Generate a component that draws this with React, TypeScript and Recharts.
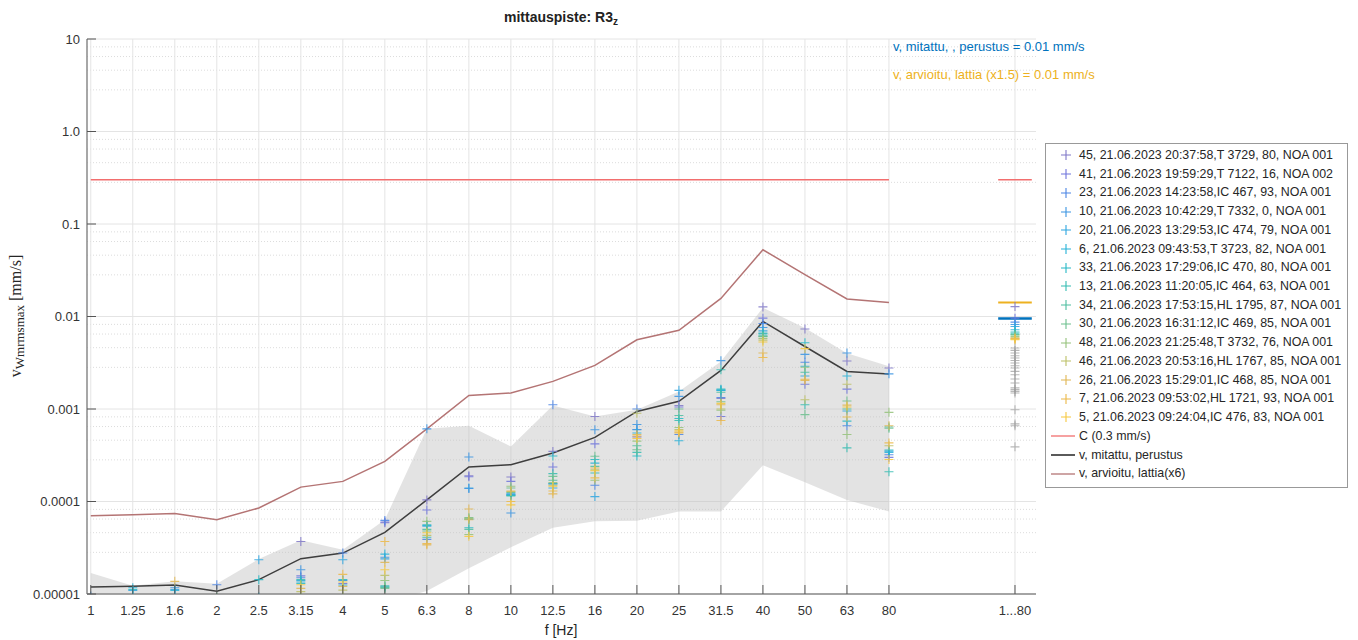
import { ComposedChart, Line, Area, Scatter, XAxis, YAxis, CartesianGrid } from 'recharts';

// 1/3-octave band centre frequencies + the overall column
const bands = ['1', '1.25', '1.6', '2', '2.5', '3.15', '4', '5', '6.3', '8', '10', '12.5', '16', '20', '25', '31.5', '40', '50', '63', '80'];
const totalLabel = '1...80';
const totalPos = 22;

// v, mitattu, perustus (black)
const measured = [1.19e-5, 1.21e-5, 1.25e-5, 1.07e-5, 1.43e-5, 2.41e-5, 2.77e-5, 4.64e-5, 1.04e-4, 2.36e-4, 2.5e-4, 3.34e-4, 4.93e-4, 9.42e-4, 1.21e-3, 2.61e-3, 8.85e-3, 4.74e-3, 2.55e-3, 2.39e-3];
// v, arvioitu, lattia(x6) (brown)
const estimated = [7.0e-5, 7.2e-5, 7.4e-5, 6.35e-5, 8.5e-5, 1.43e-4, 1.65e-4, 2.72e-4, 6.1e-4, 1.4e-3, 1.49e-3, 1.99e-3, 2.96e-3, 5.6e-3, 7.1e-3, 1.57e-2, 5.27e-2, 2.83e-2, 1.545e-2, 1.42e-2];
// grey envelope
const bandLow = [6e-6, 6e-6, 6e-6, 6e-6, 6e-6, 6e-6, 7e-6, 8e-6, 1.08e-5, 1.9e-5, 3.2e-5, 5.2e-5, 6.1e-5, 6.2e-5, 7.8e-5, 7.8e-5, 2.46e-4, 1.61e-4, 1.04e-4, 7.8e-5];
const bandHigh = [1.69e-5, 1.23e-5, 1.37e-5, 1.29e-5, 2.39e-5, 3.8e-5, 3.0e-5, 6.35e-5, 6.1e-4, 6.6e-4, 3.94e-4, 1.09e-3, 8.3e-4, 9.8e-4, 1.55e-3, 3.27e-3, 1.24e-2, 7.5e-3, 4.0e-3, 2.9e-3];

const limitC = 0.3;
const measuredTotal = 0.0095;
const estimatedTotal = 0.0142;

const runNames = [
  '45, 21.06.2023 20:37:58,T 3729, 80, NOA 001',
  '41, 21.06.2023 19:59:29,T 7122, 16, NOA 002',
  '23, 21.06.2023 14:23:58,IC 467, 93, NOA 001',
  '10, 21.06.2023 10:42:29,T 7332, 0, NOA 001',
  '20, 21.06.2023 13:29:53,IC 474, 79, NOA 001',
  '6, 21.06.2023 09:43:53,T 3723, 82, NOA 001',
  '33, 21.06.2023 17:29:06,IC 470, 80, NOA 001',
  '13, 21.06.2023 11:20:05,IC 464, 63, NOA 001',
  '34, 21.06.2023 17:53:15,HL 1795, 87, NOA 001',
  '30, 21.06.2023 16:31:12,IC 469, 85, NOA 001',
  '48, 21.06.2023 21:25:48,T 3732, 76, NOA 001',
  '46, 21.06.2023 20:53:16,HL 1767, 85, NOA 001',
  '26, 21.06.2023 15:29:01,IC 468, 85, NOA 001',
  '7, 21.06.2023 09:53:02,HL 1721, 93, NOA 001',
  '5, 21.06.2023 09:24:04,IC 476, 83, NOA 001',
];

const runValues = [
  [8.5e-6, 8.0e-6, 8.5e-6, 8.0e-6, 8.5e-6, 3.7e-5, 8.5e-6, 5.9e-5, 1.04e-4, 1.9e-4, 1.84e-4, 3.48e-4, 8.3e-4, 5.0e-4, 1.09e-3, 1.3e-3, 1.27e-2, 7.33e-3, 3.3e-3, 2.77e-3],
  [8.0e-6, 8.5e-6, 8.0e-6, 7.5e-6, 8.0e-6, 1.57e-5, 1.3e-5, 6.0e-5, 8.1e-5, 1.85e-4, 1.65e-4, 2.36e-4, 4.2e-4, 6.0e-4, 1.05e-3, 8.3e-4, 9.6e-3, 1.85e-3, 1.64e-3, 3.0e-4],
  [9.0e-6, 8.0e-6, 8.5e-6, 1.26e-5, 8.0e-6, 1.5e-5, 2.77e-5, 6.25e-5, 3.9e-5, 1.38e-4, 1.2e-4, 1.11e-3, 1.5e-4, 1.0e-3, 5.3e-4, 1.33e-3, 8.4e-3, 3.2e-3, 6.6e-4, 3.2e-4],
  [9.5e-6, 9.3e-6, 1.17e-5, 8.5e-6, 8.5e-6, 1.83e-5, 1.4e-5, 2.5e-5, 6.1e-4, 3.03e-4, 7.5e-5, 1.56e-4, 5.97e-4, 6.8e-4, 1.37e-3, 3.33e-3, 7.6e-3, 3.9e-3, 4.03e-3, 2.4e-3],
  [8.0e-6, 1.09e-5, 1.12e-5, 8.0e-6, 2.35e-5, 1.4e-5, 2.35e-5, 2.4e-5, 5.4e-5, 1.4e-4, 1.21e-4, 1.4e-4, 1.13e-4, 5.97e-4, 1.59e-3, 1.6e-3, 7.0e-3, 2.27e-3, 9.5e-4, 3.5e-4],
  [7.5e-6, 1.17e-5, 1.09e-5, 7.5e-6, 9.3e-6, 1.35e-5, 1.25e-5, 2.7e-5, 5.5e-5, 6.4e-5, 1.18e-4, 1.55e-4, 2.6e-4, 5.5e-4, 4.54e-4, 1.59e-3, 6.6e-3, 2.9e-3, 2.27e-3, 3.4e-4],
  [8.0e-6, 1.12e-5, 8.0e-6, 8.0e-6, 1.43e-5, 1.3e-5, 1.43e-5, 1.2e-5, 5.6e-5, 5.2e-5, 1.16e-4, 3.1e-4, 2.85e-4, 3.1e-4, 7.9e-4, 1.64e-3, 6.3e-3, 5.2e-3, 7.4e-4, 3.6e-4],
  [7.0e-6, 8.0e-6, 8.0e-6, 7.0e-6, 8.0e-6, 1.43e-5, 9.0e-6, 1.23e-5, 4.1e-5, 6.5e-5, 1.15e-4, 2.0e-4, 2.03e-4, 3.4e-4, 7.5e-4, 2.66e-3, 6.6e-3, 1.11e-3, 3.8e-4, 2.1e-4],
  [6.5e-6, 7.5e-6, 7.0e-6, 7.0e-6, 7.5e-6, 9.0e-6, 8.5e-6, 1.18e-5, 5.0e-5, 5.0e-5, 1.25e-4, 1.7e-4, 2.4e-4, 4.0e-4, 8.5e-4, 1.52e-3, 6.1e-3, 2.5e-3, 1.0e-3, 6.4e-4],
  [7.0e-6, 7.0e-6, 7.5e-6, 9.3e-6, 8.0e-6, 9.3e-6, 8.0e-6, 1.15e-5, 4.8e-5, 6.7e-5, 1.4e-4, 1.87e-4, 3.08e-4, 3.63e-4, 1.0e-3, 1.2e-3, 6.1e-3, 8.7e-4, 1.22e-3, 6.2e-4],
  [6.5e-6, 7.0e-6, 7.0e-6, 6.5e-6, 7.0e-6, 8.5e-6, 9.3e-6, 1.4e-5, 6.1e-5, 4.4e-5, 1.46e-4, 1.6e-4, 1.7e-4, 4.5e-4, 6.3e-4, 9.7e-4, 5.8e-3, 2.83e-3, 5.3e-4, 9.2e-4],
  [7.5e-6, 6.5e-6, 6.5e-6, 7.5e-6, 7.0e-6, 1.06e-5, 1.1e-5, 1.59e-5, 4.3e-5, 6.6e-5, 1.28e-4, 1.5e-4, 2.2e-4, 9.0e-4, 6.0e-4, 1.0e-3, 5.55e-3, 1.26e-3, 1.85e-3, 4.0e-4],
  [8.0e-6, 7.5e-6, 1.37e-5, 7.0e-6, 7.5e-6, 1.15e-5, 1.21e-5, 2.2e-5, 3.4e-5, 8.3e-5, 1.3e-4, 1.21e-4, 2.3e-4, 5.3e-4, 5.6e-4, 1.11e-3, 4.03e-3, 2.04e-3, 1.1e-3, 6.6e-4],
  [7.0e-6, 6.5e-6, 7.5e-6, 6.5e-6, 6.5e-6, 8.0e-6, 1.63e-5, 3.7e-5, 3.5e-5, 6.35e-5, 1.0e-4, 1.3e-4, 1.8e-4, 5.1e-4, 5.5e-4, 7.5e-4, 3.6e-3, 2.1e-3, 8.2e-4, 4.3e-4],
  [7.5e-6, 7.0e-6, 7.0e-6, 7.0e-6, 7.0e-6, 1.26e-5, 1.35e-5, 1.83e-5, 4.6e-5, 4.2e-5, 9.2e-5, 1.46e-4, 2.15e-4, 4.8e-4, 5.8e-4, 1.15e-3, 5.3e-3, 4.5e-3, 1.05e-3, 2.84e-4],
];
// values shown in the 1...80 column for each run
const runTotals = [0.0128, 0.0096, 0.0087, 0.0082, 0.0078, 0.0072, 0.0068, 0.0066, 0.0064, 0.0063, 0.0061, 0.0059, 0.0058, 0.0057, 0.0056];
// grey history markers in the 1...80 column
const history = [4.56e-3, 4.3e-3, 4.03e-3, 3.77e-3, 3.56e-3, 3.35e-3, 3.14e-3, 2.94e-3, 2.77e-3, 2.55e-3, 2.35e-3, 2.11e-3, 1.91e-3, 1.69e-3, 1.62e-3, 1.55e-3, 1.49e-3, 9.8e-4, 6.9e-4, 6.6e-4, 3.9e-4];

const yTicks = [1e-5, 1e-4, 1e-3, 1e-2, 1e-1, 1, 10];
const yTickLabels = ['0.00001', '0.0001', '0.001', '0.01', '0.1', '1.0', '10'];

const runColors = ['#8078c8', '#6f74dc', '#4a84e4', '#3a94e2', '#2ea6e0', '#26b2d8', '#26b8c6', '#34bcb2', '#4cbea0', '#6cc08e', '#94c27a', '#bcc066', '#e0b652', '#ecb848', '#f6c83e'];
const RED = '#f26e6e';
const BLACK = '#3e3e3e';
const BROWN = '#b47474';
const BLUE = '#0072bd';
const ORANGE = '#edb120';
const FONT = '"Liberation Sans", Arial, Helvetica, sans-serif';

const rows: any[] = bands.map((_, i) => ({
  x: i,
  measured: measured[i],
  estimated: estimated[i],
  band: [bandLow[i], bandHigh[i]],
  c: limitC,
}));
rows.push({ x: totalPos - 0.4, cTot: limitC, mTot: measuredTotal, eTot: estimatedTotal });
rows.push({ x: totalPos + 0.4, cTot: limitC, mTot: measuredTotal, eTot: estimatedTotal });

const runData = runValues.map((vals, s) => [
  ...vals.map((v, i) => ({ x: i, y: v })),
  { x: totalPos, y: runTotals[s] },
]);
const historyData = history.map((v) => ({ x: totalPos, y: v }));

const xTicks = [...bands.map((_, i) => i), totalPos];

// minor grid (as drawn in the original)
const minorFactors = [0.822, 0.646, 0.46, 0.282];
const minorGrid: number[] = [];
yTicks.slice(1).forEach((d) => minorFactors.forEach((f) => minorGrid.push(d * f)));

const plus = (color: string, opacity = 0.85) => (props: any) => {
  const { cx, cy } = props;
  if (cx == null || cy == null || isNaN(cx) || isNaN(cy)) return <g />;
  return (
    <path
      d={`M${cx - 4.5},${cy}H${cx + 4.5}M${cx},${cy - 4.5}V${cy + 4.5}`}
      stroke={color}
      strokeWidth={1.1}
      strokeOpacity={opacity}
      fill="none"
    />
  );
};

const XTick = (props: any) => {
  const { x, y, payload } = props;
  const label = payload.value === totalPos ? totalLabel : bands[payload.value];
  return (
    <g>
      <line x1={x} x2={x} y1={y - 8} y2={y - 17} stroke="#555" strokeWidth={1} />
      <text x={x} y={y + 13} textAnchor="middle" fill="#333" fontSize={13} fontFamily={FONT}>
        {label}
      </text>
    </g>
  );
};

const YTick = (props: any) => {
  const { x, y, payload } = props;
  const idx = yTicks.findIndex((t) => Math.abs(t - payload.value) / t < 1e-6);
  return (
    <g>
      <line x1={x + 8} x2={x + 17} y1={y} y2={y} stroke="#555" strokeWidth={1} />
      <text x={x + 1} y={y} dy="0.36em" textAnchor="end" fill="#333" fontSize={13} fontFamily={FONT}>
        {idx >= 0 ? yTickLabels[idx] : ''}
      </text>
    </g>
  );
};

const legendLines = [
  { name: 'C (0.3 mm/s)', color: RED },
  { name: 'v, mitattu, perustus', color: '#000' },
  { name: 'v, arvioitu, lattia(x6)', color: BROWN },
];

function LegendBox() {
  const rowH = 18.72;
  return (
    <div
      style={{
        position: 'absolute', left: 1045, top: 143, width: 303, height: 345,
        border: '1px solid #999', background: '#fff', fontFamily: FONT, fontSize: 12.4, color: '#262626',
        boxSizing: 'border-box', paddingTop: 2,
      }}
    >
      {runNames.map((n, i) => (
        <div key={n} style={{ height: rowH, lineHeight: `${rowH}px`, display: 'flex', alignItems: 'center', whiteSpace: 'nowrap' }}>
          <svg width={33} height={12} style={{ flex: 'none' }}>
            <path d="M15,6H25M20,1V11" stroke={runColors[i]} strokeWidth={1.1} />
          </svg>
          <span>{n}</span>
        </div>
      ))}
      {legendLines.map((l) => (
        <div key={l.name} style={{ height: rowH, lineHeight: `${rowH}px`, display: 'flex', alignItems: 'center', whiteSpace: 'nowrap' }}>
          <svg width={33} height={12} style={{ flex: 'none' }}>
            <line x1={5} x2={29} y1={6} y2={6} stroke={l.color} strokeWidth={1.3} />
          </svg>
          <span>{l.name}</span>
        </div>
      ))}
    </div>
  );
}

export default function App() {
  return (
    <div style={{ position: 'absolute', left: 0, top: 0, width: 1358, height: 640, background: '#fff', fontFamily: FONT }}>
      <ComposedChart width={1358} height={640} data={rows} margin={{ top: 39, right: 322, bottom: 0, left: 0 }}>
        <CartesianGrid vertical={false} horizontalValues={minorGrid} stroke="#dcdcdc" strokeDasharray="1 2" />
        <CartesianGrid verticalValues={xTicks} horizontalValues={yTicks} stroke="#e4e4e4" />
        <XAxis
          dataKey="x"
          type="number"
          domain={[-0.09, 22.5]}
          ticks={xTicks}
          interval={0}
          allowDataOverflow
          height={46}
          tickLine={false}
          axisLine={{ stroke: '#8a8a8a', strokeWidth: 1.5 }}
          tick={XTick}
        />
        <YAxis
          type="number"
          scale="log"
          domain={[1e-5, 10]}
          ticks={yTicks}
          interval={0}
          allowDataOverflow
          width={87}
          tickLine={false}
          axisLine={{ stroke: '#8a8a8a', strokeWidth: 1.5 }}
          tick={YTick}
        />
        <Area dataKey="band" type="linear" stroke="none" fill="#c2c2c2" fillOpacity={0.45} isAnimationActive={false} />
        {runData.map((d, s) => (
          <Scatter key={runNames[s]} name={runNames[s]} data={d} dataKey="y" shape={plus(runColors[s])} isAnimationActive={false} />
        ))}
        <Scatter name="history" data={historyData} dataKey="y" shape={plus('#9a9a9a', 0.7)} isAnimationActive={false} />
        <Line dataKey="c" type="linear" stroke={RED} strokeWidth={1.5} dot={false} isAnimationActive={false} />
        <Line dataKey="cTot" type="linear" stroke={RED} strokeWidth={1.5} dot={false} isAnimationActive={false} />
        <Line dataKey="estimated" type="linear" stroke={BROWN} strokeWidth={1.5} dot={false} isAnimationActive={false} />
        <Line dataKey="measured" type="linear" stroke={BLACK} strokeWidth={1.5} dot={false} isAnimationActive={false} />
        <Line dataKey="eTot" type="linear" stroke={ORANGE} strokeWidth={2} dot={false} isAnimationActive={false} />
        <Line dataKey="mTot" type="linear" stroke={BLUE} strokeWidth={2.5} dot={false} isAnimationActive={false} />
      </ComposedChart>

      <div style={{ position: 'absolute', left: 0, width: 1122, top: 7, textAlign: 'center', fontSize: 14, fontWeight: 'bold', color: '#222', lineHeight: '20px' }}>
        mittauspiste: R3<span style={{ fontSize: 10, position: 'relative', top: 3 }}>z</span>
      </div>
      <div style={{ position: 'absolute', left: 893, top: 38, fontSize: 13, lineHeight: '17px', color: BLUE, whiteSpace: 'nowrap' }}>
        v, mitattu, , perustus = 0.01 mm/s
      </div>
      <div style={{ position: 'absolute', left: 893, top: 66, fontSize: 13, lineHeight: '17px', color: ORANGE, whiteSpace: 'nowrap' }}>
        v, arvioitu, lattia (x1.5) = 0.01 mm/s
      </div>
      <div style={{ position: 'absolute', left: 0, width: 1122, top: 621, textAlign: 'center', fontSize: 14, lineHeight: '18px', color: '#262626' }}>
        f [Hz]
      </div>
      <svg style={{ position: 'absolute', left: 0, top: 0 }} width={40} height={640}>
        <text transform="translate(21,316) rotate(-90)" textAnchor="middle" fontFamily='"Liberation Serif", "Times New Roman", serif' fill="#262626" fontSize={16}>
          v<tspan fontSize={13} dy={3}>Wmrmsmax</tspan>
          <tspan fontSize={16} dy={-3}> [mm/s]</tspan>
        </text>
      </svg>
      <LegendBox />
    </div>
  );
}
